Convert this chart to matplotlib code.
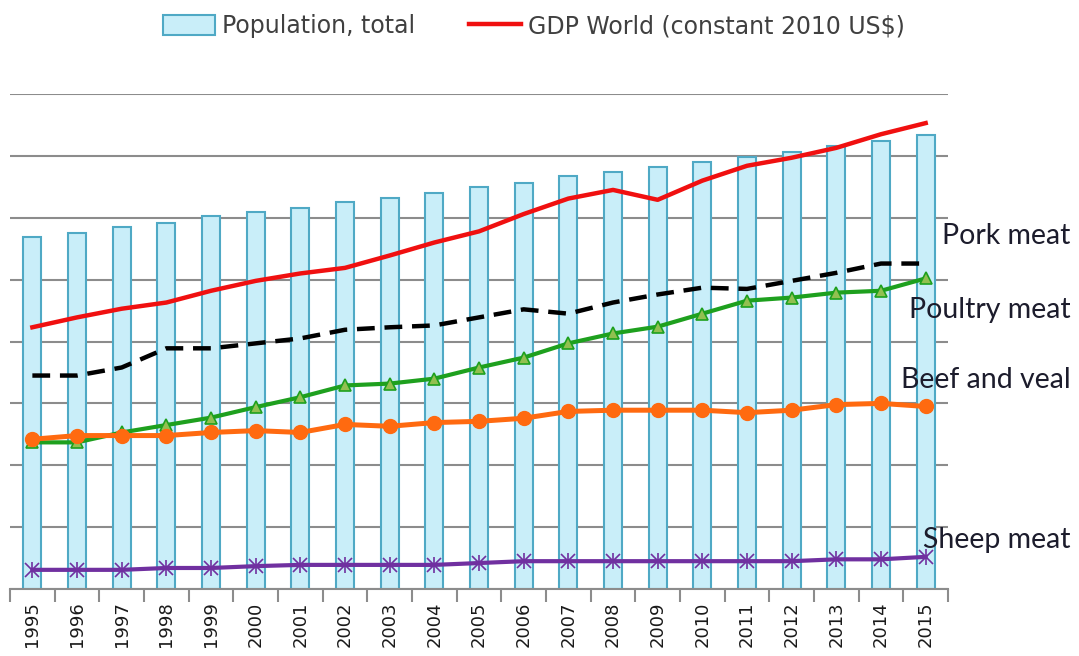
import matplotlib
matplotlib.use("Agg")
import matplotlib.pyplot as plt
from matplotlib.patches import Patch
from matplotlib.lines import Line2D
import numpy as np

years = [str(y) for y in range(1995, 2016)]

# values (chart has no y scale, units = gridline steps)
population = [5.69, 5.76, 5.85, 5.92, 6.03, 6.10, 6.16, 6.26, 6.32, 6.40, 6.50,
              6.56, 6.68, 6.74, 6.82, 6.90, 6.98, 7.06, 7.16, 7.24, 7.34]
gdp = [4.23, 4.39, 4.53, 4.63, 4.82, 4.98, 5.10, 5.19, 5.39, 5.60, 5.78,
       6.06, 6.31, 6.45, 6.29, 6.60, 6.84, 6.97, 7.13, 7.35, 7.53]
pork = [3.45, 3.45, 3.58, 3.89, 3.89, 3.97, 4.05, 4.19, 4.23, 4.26, 4.39,
        4.52, 4.45, 4.63, 4.76, 4.87, 4.85, 4.98, 5.11, 5.26, 5.26]
poultry = [2.37, 2.37, 2.53, 2.65, 2.77, 2.94, 3.10, 3.29, 3.32, 3.40, 3.58,
           3.74, 3.97, 4.13, 4.24, 4.45, 4.66, 4.71, 4.79, 4.82, 5.02]
beef = [2.42, 2.48, 2.48, 2.48, 2.53, 2.56, 2.53, 2.66, 2.63, 2.69, 2.71,
        2.76, 2.87, 2.89, 2.89, 2.89, 2.85, 2.89, 2.98, 3.00, 2.95]
sheep = [0.31, 0.31, 0.31, 0.34, 0.34, 0.37, 0.39, 0.39, 0.39, 0.39, 0.42,
         0.45, 0.45, 0.45, 0.45, 0.45, 0.45, 0.45, 0.48, 0.48, 0.52]

series_labels = ["Pork meat", "Poultry meat", "Beef and veal", "Sheep meat"]

x = np.arange(len(years))

fig = plt.figure(figsize=(10.79, 6.56), dpi=100)
ax = fig.add_axes([0.0093, 0.1021, 0.8693, 0.7546])

ax.set_axisbelow(True)
ax.yaxis.grid(True, color="#8c8c8c", linewidth=1.5)
ax.bar(x, population, width=0.4, color="#c9eef9", edgecolor="#4fa9c5",
       linewidth=1.5, zorder=2)

ax.plot(x, gdp, color="#f01010", linewidth=3.2, zorder=4)
ax.plot(x, pork, color="black", linewidth=3.2, dashes=(4, 2.2), zorder=4)
ax.plot(x, poultry, color="#1ea01e", linewidth=3.0, marker="^",
        markersize=9, markerfacecolor="#92c050", markeredgecolor="#1ea01e",
        markeredgewidth=1.2, zorder=5)
ax.plot(x, beef, color="#ff6a10", linewidth=3.6, marker="o",
        markersize=10, zorder=5)
ax.plot(x, sheep, color="#7030a0", linewidth=3.0, marker="x",
        markersize=10, markeredgewidth=1.2, zorder=5)
ax.plot(x, sheep, color="#7030a0", linestyle="none", marker="|",
        markersize=12, markeredgewidth=1.2, zorder=5)

ax.set_xlim(-0.5, len(years) - 0.5)
ax.set_ylim(0, 8)
ax.set_yticks(range(0, 9))
ax.tick_params(axis="y", left=False, labelleft=False)

ax.set_xticks(x)
ax.set_xticklabels(years, rotation=90, fontsize=13, color="#1a1a1a")
ax.set_xticks(np.arange(-0.5, len(years)), minor=True)
ax.tick_params(axis="x", which="major", length=0, pad=9)
ax.tick_params(axis="x", which="minor", length=9, width=1.5, color="#8c8c8c")

for side in ["left", "right", "top"]:
    ax.spines[side].set_visible(False)
ax.spines["bottom"].set_color("#8c8c8c")
ax.spines["bottom"].set_linewidth(1.5)

label_y = [0.640, 0.527, 0.421, 0.177]
for name, yy in zip(series_labels, label_y):
    fig.text(0.992, yy, name, ha="right", va="center", fontsize=20.5,
             family="Lato", color="#1c1c2c")

handles = [Patch(facecolor="#c9eef9", edgecolor="#4fa9c5", linewidth=1.5),
           Line2D([0], [0], color="#f01010", linewidth=3.2)]
fig.legend(handles, ["Population, total", "GDP World (constant 2010 US$)"],
           loc="center", bbox_to_anchor=(0.495, 0.96), ncol=2, frameon=False,
           fontsize=17, handlelength=2.2, handleheight=0.9,
           handletextpad=0.3, columnspacing=2.3, labelcolor="#404040")

fig.savefig("out.png", dpi=100)
